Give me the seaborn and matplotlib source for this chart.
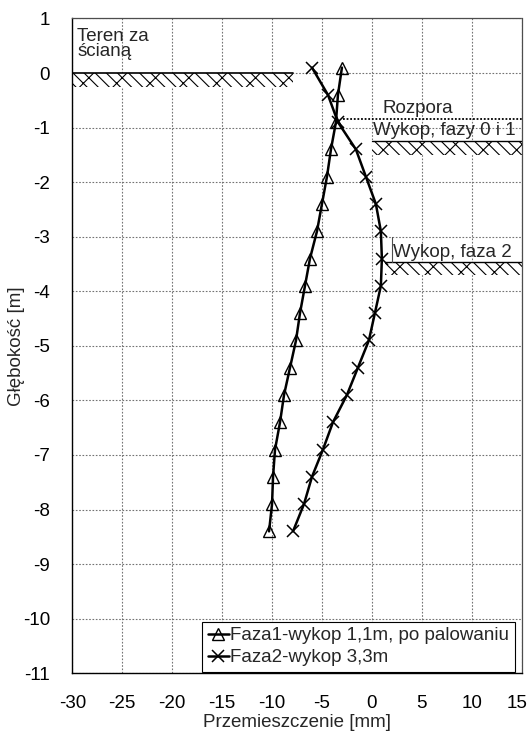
import matplotlib
matplotlib.use("Agg")
import matplotlib.pyplot as plt
from matplotlib.patches import Rectangle
import matplotlib.transforms as mtransforms
import seaborn as sns
import pandas as pd

# ---- data ----
depth = [0.1, -0.4, -0.9, -1.4, -1.9, -2.4, -2.9, -3.4, -3.9,
         -4.4, -4.9, -5.4, -5.9, -6.4, -6.9, -7.4, -7.9, -8.4]
faza1 = [-3.0, -3.4, -3.6, -4.1, -4.5, -5.0, -5.5, -6.2, -6.7,
         -7.2, -7.6, -8.2, -8.8, -9.2, -9.7, -9.9, -10.0, -10.3]
faza2 = [-6.0, -4.4, -3.4, -1.6, -0.6, 0.4, 0.9, 1.0, 0.9,
         0.3, -0.3, -1.4, -2.5, -3.9, -4.9, -6.0, -6.8, -7.9]
series_names = ["Faza1-wykop 1,1m, po palowaniu", "Faza2-wykop 3,3m"]
x_ticks = [-30, -25, -20, -15, -10, -5, 0, 5, 10, 15]
y_ticks = list(range(-11, 2))

sns.set_theme(style="white")
plt.rcParams["font.family"] = ["Liberation Sans", "DejaVu Sans"]
plt.rcParams["axes.unicode_minus"] = False
plt.rcParams["hatch.linewidth"] = 0.8
FS = 13.5

fig = plt.figure(figsize=(5.28, 7.39), dpi=100)
ax = fig.add_axes([0.137, 0.089, 0.851, 0.886])

df1 = pd.DataFrame({"x": faza1, "y": depth})
df2 = pd.DataFrame({"x": faza2, "y": depth})

sns.lineplot(data=df1, x="x", y="y", sort=False, estimator=None, ax=ax,
             color="black", lw=1.8, marker="^", markersize=9,
             markerfacecolor="none", markeredgecolor="black", markeredgewidth=1.0,
             legend=False)
sns.lineplot(data=df2, x="x", y="y", sort=False, estimator=None, ax=ax,
             color="black", lw=1.8, marker="x", markersize=9,
             markeredgecolor="black", markeredgewidth=1.1, legend=False)
handles = list(ax.lines[:2])

ax.set_xlim(-30, 15)
ax.set_ylim(-11, 1)
ax.set_xticks(x_ticks)
ax.set_yticks(y_ticks)
ax.grid(True, color="0.45", linestyle=(0, (1.5, 1.5)), lw=0.8)
ax.set_axisbelow(True)

for s in ["left", "bottom"]:
    ax.spines[s].set_color("black")
    ax.spines[s].set_linewidth(1.0)
for s in ["top", "right"]:
    ax.spines[s].set_color("0.3")
    ax.spines[s].set_linestyle((0, (1.5, 1)))
    ax.spines[s].set_linewidth(0.9)

ax.tick_params(axis="both", direction="out", length=5, width=1, color="black",
               labelsize=FS, labelcolor="black")
ax.tick_params(axis="x", pad=11)
ax.tick_params(axis="y", pad=11)
ax.set_xlabel("Przemieszczenie [mm]", fontsize=FS, labelpad=1)
ax.set_ylabel("Głębokość [m]", fontsize=FS)
ax.yaxis.set_label_coords(-0.105, 0.5)

# nudge the last x tick label so it stays inside the figure
fig.canvas.draw()
last = ax.get_xticklabels()[-1]
last.set_transform(last.get_transform() +
                   mtransforms.ScaledTranslation(-5 / 100, 0, fig.dpi_scale_trans))

# ground symbols
hatch = "\\\\\\/"
ax.add_patch(Rectangle((-30, -0.25), 22.1, 0.25, facecolor="white",
                       edgecolor="black", hatch=hatch, lw=0, zorder=1.5))
ax.plot([-30, -7.9], [0, 0], color="black", lw=1.2, zorder=1.6)

ax.add_patch(Rectangle((0.0, -1.50), 15, 0.26, facecolor="white",
                       edgecolor="black", hatch=hatch, lw=0, zorder=1.5))
ax.plot([0.0, 15], [-1.24, -1.24], color="black", lw=1.0, zorder=1.6)

ax.add_patch(Rectangle((1.3, -3.70), 13.7, 0.24, facecolor="white",
                       edgecolor="black", hatch=hatch, lw=0, zorder=1.5))
ax.plot([1.3, 15], [-3.46, -3.46], color="black", lw=1.0, zorder=1.6)
ax.plot([2.0, 2.0], [-3.0, -3.46], color="0.3", lw=0.8, zorder=1.6)

# strut (rozpora)
ax.plot([-2.9, 15], [-0.85, -0.85], color="black", lw=1.3,
        linestyle=(0, (1, 1)), zorder=1.6)

ax.text(-29.5, 0.83, "Teren za\nścianą", fontsize=FS, va="top", ha="left",
        linespacing=0.9)
ax.text(1.05, -0.73, "Rozpora", fontsize=FS, va="baseline", ha="left")
ax.text(0.15, -1.14, "Wykop, fazy 0 i 1", fontsize=FS, va="baseline", ha="left")
ax.text(2.15, -3.37, "Wykop, faza 2", fontsize=FS, va="baseline", ha="left")

leg = ax.legend(handles, series_names, loc="lower right",
                bbox_to_anchor=(0.985, 0.002), bbox_transform=ax.transAxes,
                borderaxespad=0, fontsize=FS, frameon=True, fancybox=False,
                handlelength=1.1, handletextpad=0.1, labelspacing=0.25,
                borderpad=0.3)
leg.get_frame().set_edgecolor("black")
leg.get_frame().set_linewidth(0.8)
leg.get_frame().set_alpha(1)

fig.savefig("out.png", dpi=100)
